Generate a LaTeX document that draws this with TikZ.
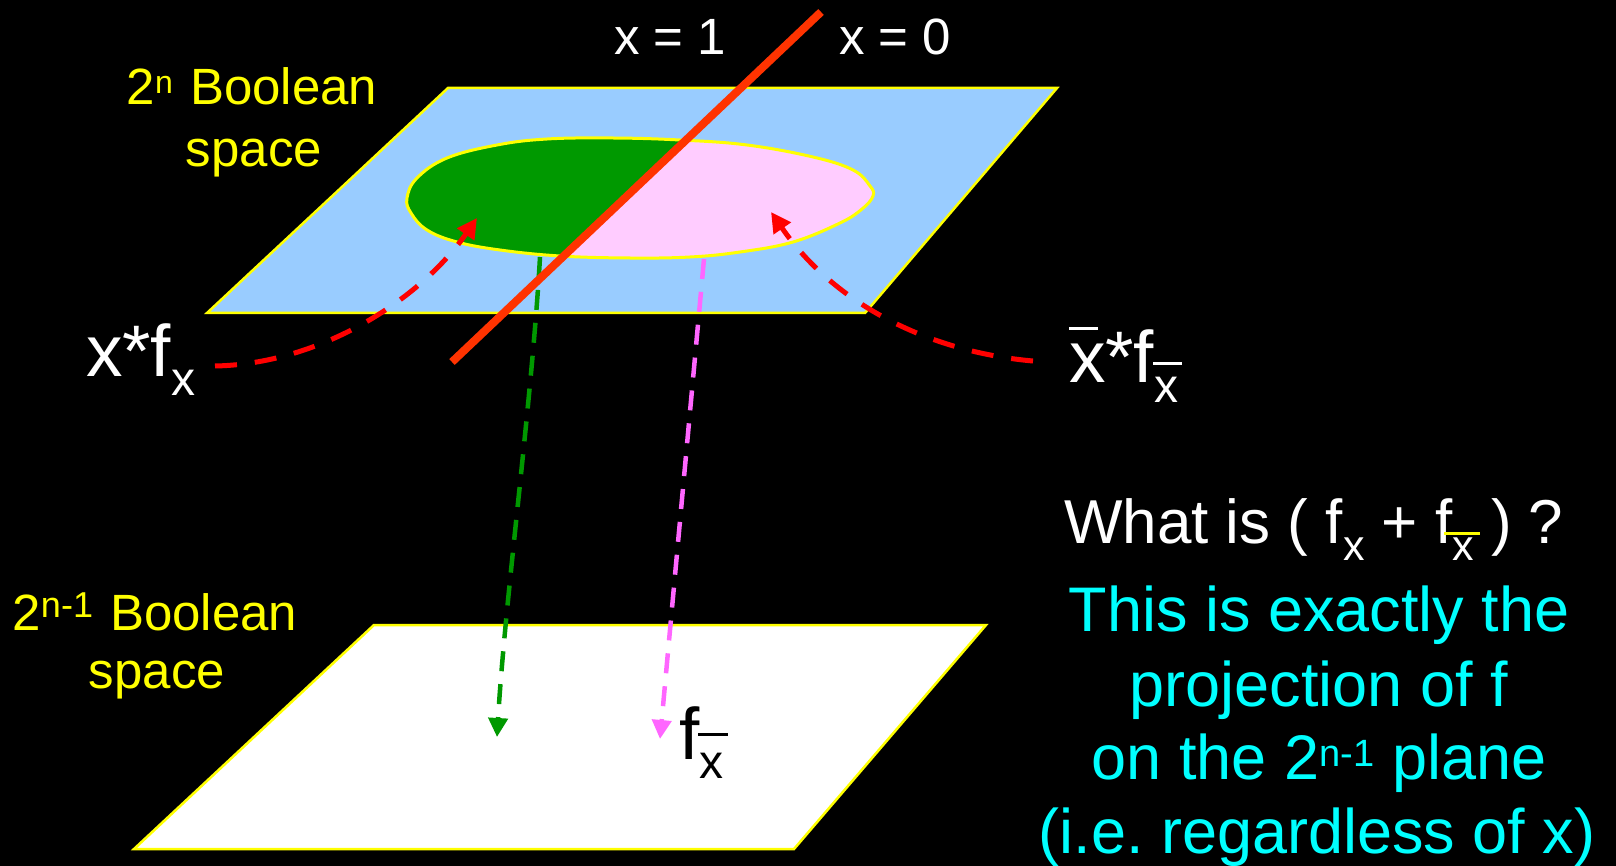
\documentclass[tikz,border=0pt]{standalone}
\usepackage{fontspec}
\setmainfont{Liberation Sans}
\usetikzlibrary{arrows.meta}
\frenchspacing
\definecolor{planeblue}{HTML}{99CCFF}
\definecolor{blobgreen}{HTML}{009900}
\definecolor{blobpink}{HTML}{FFCCFF}
\definecolor{cutred}{HTML}{FF3300}
\definecolor{arrred}{HTML}{FF0000}
\definecolor{arrpink}{HTML}{FF66FF}
\definecolor{txtyellow}{HTML}{FFFF00}
\definecolor{txtcyan}{HTML}{00FFFF}
\newcommand\fs[1]{\fontsize{#1}{#1}\selectfont}
\newcommand\subx[2]{\raisebox{-#1pt}{\fs{#2}x}}
\tikzset{
  plane/.style={draw=txtyellow, line width=2.5pt, line join=miter},
  lbl/.style={inner sep=0pt, outer sep=0pt},
  redarrow/.style={draw=arrred, line width=5pt, dash pattern=on 22pt off 18pt,
    -{Triangle[length=20pt,width=20pt]}},
  projarrow/.style={line width=4.5pt, dash pattern=on 20pt off 13pt,
    -{Triangle[length=19pt,width=19pt]}},
}
\begin{document}
\begin{tikzpicture}[x=1pt,y=-1pt]
\useasboundingbox (0,0) rectangle (1616,866);
\fill[black] (0,0) rectangle (1616,866);

% upper plane
\filldraw[plane, fill=planeblue] (448,88) -- (1057,88) -- (865,313) -- (207,313) -- cycle;

% blob
\def\blobpath{plot[smooth cycle, tension=0.65] coordinates {
  (407,198) (417,178) (447,158) (497,145) (547,139) (613,138) (680,140)
  (747,145) (813,157) (853,170) (870,186) (873,196) (862,209) (840,223)
  (793,242) (740,252) (690,257) (630,258) (560,256) (500,250) (457,242)
  (427,230) (411,213)}}
\fill[blobpink] \blobpath;
\begin{scope}
  \clip (821,12) -- (452,362) -- (0,362) -- (0,12) -- cycle;
  \fill[blobgreen] \blobpath;
\end{scope}
\draw[txtyellow, line width=3pt] \blobpath;

% lower plane
\filldraw[plane, fill=white] (374,625) -- (986,625) -- (794,849) -- (134,849) -- cycle;

% labels
\node[lbl, text=white, font=\fs{51}, anchor=base west] (xone) at (614,55) {x = 1};
\node[lbl, text=white, font=\fs{51}, anchor=base west] (xzero) at (839,55) {x = 0};

\node[lbl, text=txtyellow, font=\fs{51}, anchor=base] (upA) at (252,105)
  {2\raisebox{11pt}{\fs{32}n}\hspace{3pt} Boolean};
\node[lbl, text=txtyellow, font=\fs{51}, anchor=base] (upB) at (254,167) {space};

\node[lbl, text=txtyellow, font=\fs{51}, anchor=base] (loA) at (155,630)
  {2\raisebox{13pt}{\fs{36}n-1}\hspace{3pt} Boolean};
\node[lbl, text=txtyellow, font=\fs{51}, anchor=base] (loB) at (157,688) {space};

\node[lbl, text=white, font=\fs{73}, anchor=base west] (xf) at (86,376)
  {x*f\subx{19}{48}};
\node[lbl, text=white, font=\fs{73}, anchor=base west] (xbf) at (1069,382)
  {\rlap{\raisebox{52pt}{\rule{29pt}{3pt}}}x*f\raisebox{-20pt}{\fs{48}\rlap{\hspace{-1pt}\raisebox{37pt}{\rule{29pt}{3pt}}}x}};
\node[lbl, text=black, font=\fs{73}, anchor=base west] (fxb) at (679,759)
  {f\raisebox{-19pt}{\fs{48}\rlap{\hspace{-1pt}\raisebox{42pt}{\rule{30pt}{3pt}}}x}};

\node[lbl, text=white, font=\fs{62}, anchor=base west] (what) at (1064,543)
  {What is ( f\subx{17}{43} + f\raisebox{-17pt}{\fs{43}\rlap{\hspace{-8pt}\raisebox{25pt}{\color{txtyellow}\rule{36pt}{3pt}}}x} ) ?};
\node[lbl, text=txtcyan, font=\fs{63}, anchor=base] (c1) at (1319,631) {This is exactly the};
\node[lbl, text=txtcyan, font=\fs{63}, anchor=base] (c2) at (1319,706) {projection of f};
\node[lbl, text=txtcyan, font=\fs{63}, anchor=base] (c3) at (1319,779)
  {on the 2\raisebox{13pt}{\fs{38}n-1} plane};
\node[lbl, text=txtcyan, font=\fs{63}, anchor=base] (c4) at (1317,853) {(i.e. regardless of x)};

% connectors
\coordinate (lstart) at (215,366);
\coordinate (ltip) at (477,218);
\coordinate (rstart) at (1033,361);
\coordinate (rtip) at (771,212);
\coordinate (gstart) at (540,257);
\coordinate (gtip) at (497,737);
\coordinate (pstart) at (704,259);
\coordinate (ptip) at (660,739);

\draw[projarrow, draw=blobgreen] (gstart) .. controls (532,400) and (505,600) .. (gtip);
\draw[projarrow, draw=arrpink] (pstart) -- (ptip);
\draw[redarrow] (lstart) .. controls (320,364) and (420,300) .. (ltip);
\draw[redarrow] (rstart) .. controls (930,352) and (835,305) .. (rtip);

% cut line
\coordinate (cuttop) at (821,12);
\coordinate (cutbot) at (452,362);
\draw[cutred, line width=8pt] (cuttop) -- (cutbot);
\end{tikzpicture}
\end{document}
